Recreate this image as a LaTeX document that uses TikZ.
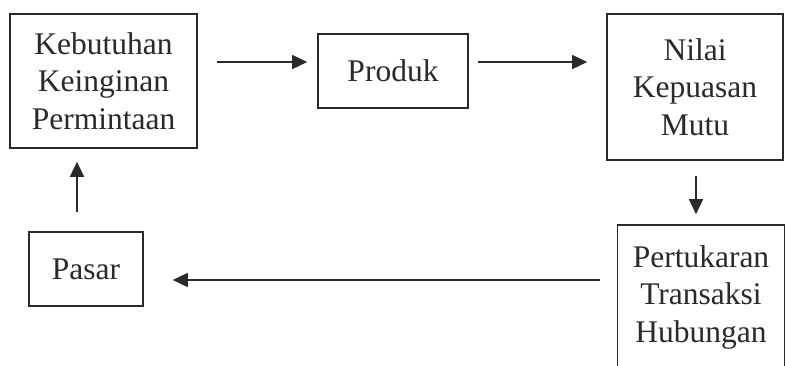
\documentclass[tikz,border=0pt]{standalone}
\usepackage{fontspec}
\setmainfont{Liberation Serif}
\usetikzlibrary{arrows.meta}
\definecolor{ink}{HTML}{2A2A2A}
\tikzset{
  box/.style={draw=ink, line width=1.6pt, rectangle, align=center, inner sep=0pt,
    text=ink, font=\fontsize{31.5}{37.5}\selectfont},
  arr/.style={draw=ink, line width=1.5pt, -{Triangle[length=15pt,width=14pt]}}
}
\begin{document}
\begin{tikzpicture}[x=1pt,y=-1pt]
\clip (0,0) rectangle (785,365);
\fill[white] (0,0) rectangle (785,365);
\node[box, minimum width=187pt, minimum height=134pt] (keb) at (103.5,81) {Kebutuhan\\Keinginan\\Permintaan};
\node[box, minimum width=150pt, minimum height=74pt] (prod) at (393,71) {Produk};
\node[box, minimum width=176pt, minimum height=146pt] (nilai) at (695,87) {Nilai\\Kepuasan\\Mutu};
\node[box, minimum width=167pt, minimum height=144pt] (pert) at (701,297) {Pertukaran\\Transaksi\\Hubungan};
\node[box, minimum width=114pt, minimum height=74pt] (pasar) at (86,269) {Pasar};
% connectors
\draw[arr] ([xshift=19pt,yshift=19pt]keb.east) -- ([xshift=-10pt,yshift=9pt]prod.west);
\draw[arr] ([xshift=9pt,yshift=9pt]prod.east) -- ([xshift=-19pt,yshift=25pt]nilai.west);
\draw[arr] ([xshift=1pt,yshift=-15pt]nilai.south) -- ([xshift=-5pt,yshift=10pt]pert.north);
\draw[arr] ([xshift=-17pt,yshift=17pt]pert.west) -- ([xshift=29pt,yshift=-11pt]pasar.east);
\draw[arr] ([xshift=-9pt,yshift=19pt]pasar.north) -- ([xshift=-26.5pt,yshift=-13pt]keb.south);
\end{tikzpicture}
\end{document}
